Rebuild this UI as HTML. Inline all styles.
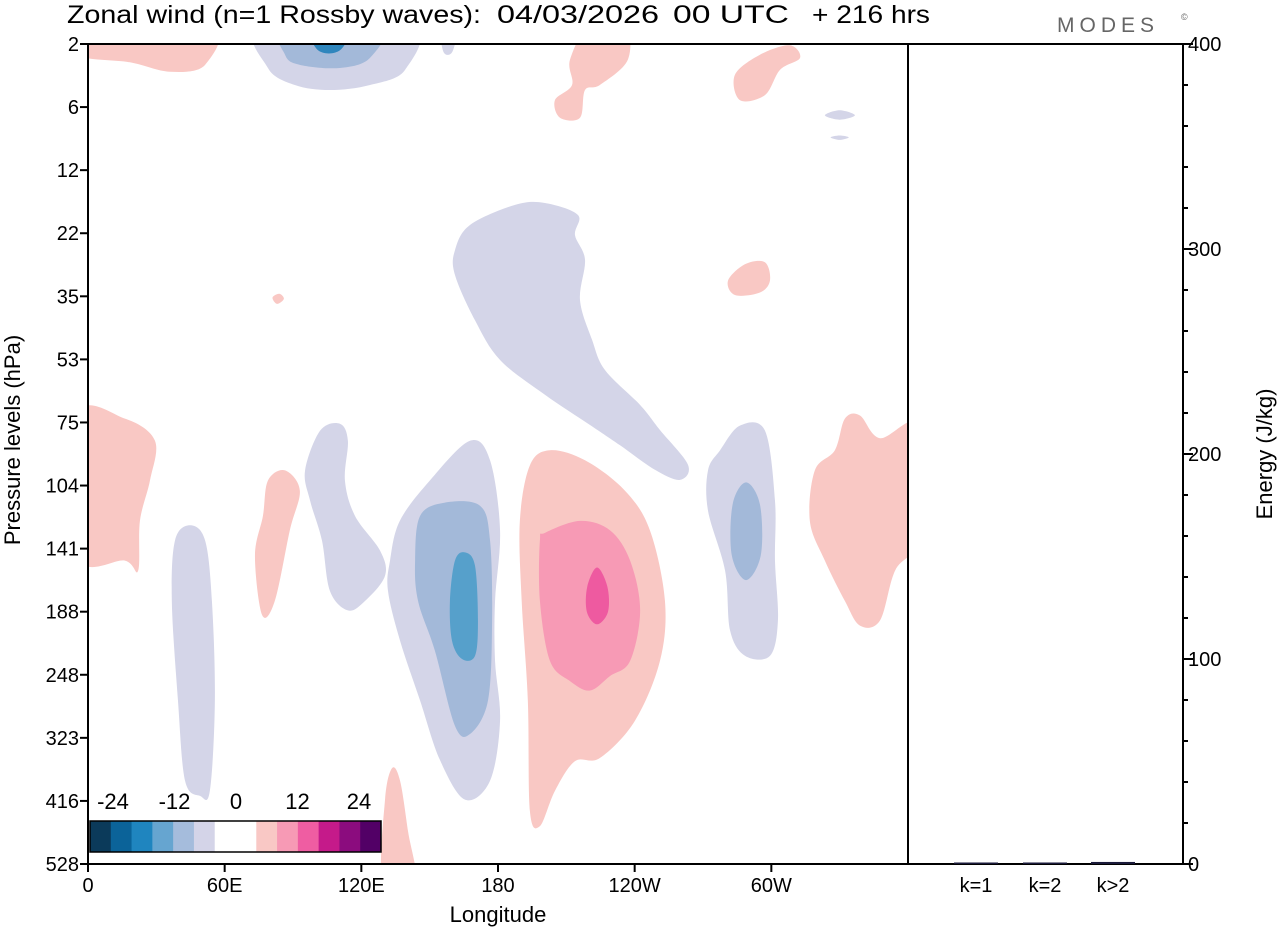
<!DOCTYPE html>
<html><head><meta charset="utf-8"><style>
body{margin:0;background:#fff;font-family:"Liberation Sans",Arial,sans-serif}
svg text{font-family:"Liberation Sans",Arial,sans-serif;white-space:pre}
</style></head><body>
<svg id="chart" width="1280" height="930" viewBox="0 0 1280 930" xmlns="http://www.w3.org/2000/svg">
<rect width="1280" height="930" fill="#fff"/>
<g font-size="25">
<text x="67" y="23" textLength="414" lengthAdjust="spacingAndGlyphs">Zonal wind (n=1 Rossby waves):</text>
<text x="497" y="23" textLength="162" lengthAdjust="spacingAndGlyphs">04/03/2026</text>
<text x="673" y="23" textLength="116" lengthAdjust="spacingAndGlyphs">00 UTC</text>
<text x="812" y="23" textLength="118" lengthAdjust="spacingAndGlyphs">+ 216 hrs</text>
</g>
<text x="1057" y="32" font-size="21" fill="#666" letter-spacing="5">MODES</text>
<text x="1181" y="20" font-size="9" fill="#666">©</text>
<defs><clipPath id="pc"><rect x="88" y="44" width="820" height="820"/></clipPath></defs>
<g id="contours" clip-path="url(#pc)"></g>
<g id="axes"></g>
</svg>
<script>
// pressure levels (index along y), longitude ticks, energy data
const levels=["2","6","12","22","35","53","75","104","141","188","248","323","416","528"];
const lonTicks=[0,60,120,180,240,300];
const lonLabels=["0","60E","120E","180","120W","60W"];
const energyCats=["k=1","k=2","k>2"];
const energyVals=[0.5,0.2,1.0];
const energyTicks=[0,100,200,300,400];
const cbColors=["#0b3a5a","#0b6399","#1f85bf","#66a5d0","#a5bcdc","#d4d4e8","#ffffff","#ffffff","#f9c8c5","#f79ab5","#ef5da2","#c51a8a","#8b0c7e","#520066"];
const cbLabels=["-24","-12","0","12","24"];
// contour blobs: [lon, levelIndex] points
const blobGrey="#d4d5e8",blobLB="#a3b9d9",blobMB="#56a0cb",blobDB="#2f86bd",pinkL="#f9c8c4",pinkM="#f79ab5",pinkD="#ee5aa0";
const blobs=[
 {c:pinkL,p:[[-5,-0.3],[53.6,-0.3],[51.4,0.33],[36,0.44],[18.4,0.29],[-5,0.17]]},
 {c:blobGrey,p:[[76.4,-0.3],[141.4,-0.3],[139.2,0.41],[123.8,0.65],[106.2,0.73],[90.8,0.65],[79,0.38]]},
 {c:blobLB,p:[[85.6,-0.3],[128.2,-0.3],[123.8,0.22],[110.6,0.38],[93,0.33],[86.5,0.17]]},
 {c:blobDB,p:[[97.5,-0.3],[115,-0.3],[110.6,0.1],[101,0.1]]},
 {c:blobGrey,p:[[155,-0.3],[162,-0.3],[160,0.12],[156,0.12]]},
 {c:pinkL,p:[[211.6,0.25],[220.4,-0.3],[235.7,-0.3],[237,0.25],[224.7,0.65],[218.2,0.73],[216,1.17],[207.2,1.17],[205,0.89],[212.5,0.65]]},
 {c:pinkL,p:[[284,0.49],[295,0.17],[308,0.02],[312.6,0.22],[303.8,0.41],[297.2,0.81],[286.2,0.89]]},
 {c:blobGrey,p:[[323.5,1.13],[330,1.05],[336.7,1.13],[330,1.2]]},
 {c:blobGrey,p:[[326,1.48],[330,1.45],[334,1.48],[330,1.52]]},
 {c:blobGrey,p:[[161.1,3.27],[167.7,2.87],[187.5,2.55],[200.6,2.52],[215.1,2.71],[213.8,3.03],[218.2,3.42],[216,4.06],[221.3,4.69],[227,5.17],[242.3,5.72],[251.1,6.12],[263.4,6.67],[259.9,6.91],[248.9,6.75],[233.5,6.36],[220.4,6.04],[200.6,5.56],[180.9,5.01],[169.9,4.38],[161.1,3.66]]},
 {c:pinkL,p:[[281,3.75],[288.5,3.49],[297.2,3.46],[299.4,3.75],[295,3.94],[284,3.98]]},
 {c:pinkL,p:[[81,4.02],[84,3.96],[86,4.04],[83,4.12]]},
 {c:pinkL,p:[[-5,5.89],[16.2,5.94],[29.4,6.29],[27.2,6.92],[22.8,7.56],[22,8.35],[16.2,8.19],[-5,8.11]]},
 {c:pinkL,p:[[365,6.05],[347.7,6.25],[338.9,5.89],[332.3,5.94],[327.9,6.44],[319.1,6.76],[316.9,7.56],[323.5,8.19],[332.3,8.83],[338.9,9.22],[347.7,9.14],[354.3,8.35],[365,7.79]]},
 {c:blobGrey,p:[[95.3,6.76],[101.9,6.13],[110.6,6.02],[114.1,6.29],[112.8,6.92],[117.2,7.48],[128.2,8.03],[130.4,8.43],[121.6,8.83],[114.1,8.98],[106.2,8.67],[102.7,7.87],[97.5,7.24]]},
 {c:pinkL,p:[[79,6.92],[86.5,6.76],[93,7.08],[88.6,7.71],[82,8.83],[76.4,9.05],[73.3,8.11],[76.8,7.48]]},
 {c:blobGrey,p:[[38.2,7.87],[44.8,7.63],[51.4,7.87],[54.4,8.83],[55.7,10.41],[53.5,11.84],[49.2,11.92],[42.6,11.68],[39.5,10.41],[36.8,8.83]]},
 {c:blobGrey,p:[[132.6,8.19],[136.9,7.56],[150.1,6.92],[167.7,6.29],[176.5,6.6],[180.9,7.71],[178.7,8.83],[178.7,9.78],[180.9,10.73],[176.5,11.68],[165.5,11.98],[154.5,11.35],[145.8,10.41],[137,9.46],[131.7,8.67]]},
 {c:blobLB,p:[[143.6,8.19],[145.8,7.48],[156.7,7.27],[172.1,7.32],[176.5,7.87],[177.4,9.14],[175.6,10.41],[167.7,10.94],[161.1,10.81],[152.3,9.62],[144.9,8.83]]},
 {c:blobMB,p:[[158.9,8.83],[161.1,8.19],[165.5,8.06],[169.9,8.27],[171.2,9.14],[169.9,9.7],[164.2,9.75],[159.8,9.46]]},
 {c:pinkL,p:[[189.6,7.56],[194,6.68],[202.8,6.44],[218.2,6.6],[235.7,7.08],[246.7,7.71],[253.3,8.83],[251.1,9.78],[240.1,10.73],[224.7,11.32],[213.8,11.37],[205,11.84],[198.4,12.4],[194,12.16],[193.1,10.41],[190.4,8.83]]},
 {c:pinkM,p:[[198.4,7.87],[200.6,7.75],[216,7.56],[229.2,7.71],[238,8.19],[242.4,8.98],[238,9.78],[229.2,10.02],[220.4,10.25],[211.6,10.1],[202.8,9.78],[198.4,8.83]]},
 {c:pinkD,p:[[223.5,8.3],[228,8.6],[228.3,9.0],[223.5,9.2],[219,9.0],[219.2,8.6]]},
 {c:blobGrey,p:[[272.2,6.76],[277.5,6.44],[286.2,6.05],[297.2,6.13],[301.6,7.24],[301.6,8.19],[302.9,9.14],[299.4,9.7],[288.5,9.7],[281.9,9.3],[279.7,8.35],[272.2,7.4]]},
 {c:blobLB,p:[[288.9,6.95],[295,7.3],[295.4,8.1],[288.9,8.5],[282.6,8.1],[283,7.3]]},
 {c:pinkL,p:[[129.5,13.3],[130.4,11.98],[133.5,11.48],[137,11.68],[140.5,12.48],[143.6,13.3]]}
];
const X0=88,X1=908,Y0=44,Y1=864;
const xs=l=>X0+l*(X1-X0)/360;
const ys=i=>Y0+i*(Y1-Y0)/(levels.length-1);
const NS="http://www.w3.org/2000/svg";
function mk(t,a,parent){const e=document.createElementNS(NS,t);for(const k in a)e.setAttribute(k,a[k]);parent.appendChild(e);return e;}
function smooth(pts){const n=pts.length;let d=`M${pts[0][0]},${pts[0][1]}`;
 for(let i=0;i<n;i++){const p0=pts[(i-1+n)%n],p1=pts[i],p2=pts[(i+1)%n],p3=pts[(i+2)%n];
 const c1=[p1[0]+(p2[0]-p0[0])/6,p1[1]+(p2[1]-p0[1])/6],c2=[p2[0]-(p3[0]-p1[0])/6,p2[1]-(p3[1]-p1[1])/6];
 d+=`C${c1[0]},${c1[1]} ${c2[0]},${c2[1]} ${p2[0]},${p2[1]}`;}return d+"Z";}
const cg=document.getElementById('contours');
blobs.forEach((b,i)=>{const pts=b.p.map(q=>[xs(q[0]),ys(q[1])]);
 const e=mk('path',{d:smooth(pts),fill:b.c},cg);
 
 });
const ax=document.getElementById('axes');
const stroke={stroke:'#000','stroke-width':2,fill:'none'};
let r=mk('rect',Object.assign({x:X0,y:Y0,width:1183-X0,height:Y1-Y0},stroke),ax);

let dv=mk('line',{x1:X1,y1:Y0,x2:X1,y2:Y1,stroke:'#000','stroke-width':2},ax);

levels.forEach((lv,i)=>{const y=ys(i);mk('line',{x1:X0-8,y1:y,x2:X0,y2:y,stroke:'#000','stroke-width':2},ax);
 const t=mk('text',{x:X0-9,y:y+7,'font-size':20,'text-anchor':'end'},ax);t.textContent=lv;
 });
lonTicks.forEach((l,i)=>{const x=xs(l);mk('line',{x1:x,y1:Y1,x2:x,y2:Y1+8,stroke:'#000','stroke-width':2},ax);
 const t=mk('text',{x:x,y:Y1+28,'font-size':20,'text-anchor':'middle'},ax);t.textContent=lonLabels[i];
 });
let t=mk('text',{x:498,y:922,'font-size':22,'text-anchor':'middle'},ax);t.textContent='Longitude';

t=mk('text',{x:0,y:0,'font-size':22,'text-anchor':'middle',transform:'translate(20,440) rotate(-90)'},ax);t.textContent='Pressure levels (hPa)';

// energy axis
const eMax=400,ey=v=>Y1-v*(Y1-Y0)/eMax;
for(let v=0;v<=eMax;v+=20){const y=ey(v);const maj=v%100===0;mk('line',{x1:1183,y1:y,x2:1183+(maj?10:5),y2:y,stroke:'#000','stroke-width':2},ax);}
energyTicks.forEach(v=>{const tt=mk('text',{x:1188,y:ey(v)+7,'font-size':20},ax);tt.textContent=v;
 });
t=mk('text',{x:0,y:0,'font-size':22,'text-anchor':'middle',transform:'translate(1272,454) rotate(-90)'},ax);t.textContent='Energy (J/kg)';

const bx=[976,1045,1113];
energyCats.forEach((c,i)=>{const h=Math.max(1.5,Y1-ey(energyVals[i]));
 const b=mk('rect',{x:bx[i]-22,y:Y1-h,width:44,height:h,fill:'#1a1a3a'},ax);
 
 const tt=mk('text',{x:bx[i],y:Y1+28,'font-size':20,'text-anchor':'middle'},ax);tt.textContent=c;
 });
// colorbar
const cw=(381-90)/cbColors.length;
cbColors.forEach((c,i)=>{const e=mk('rect',{x:90+i*cw,y:821,width:cw+0.5,height:31,fill:c},ax);
 });
mk('rect',{x:90,y:821,width:291,height:31,fill:'none',stroke:'#000','stroke-width':1.5},ax);
cbLabels.forEach((l,i)=>{const tt=mk('text',{x:113+i*61.5,y:809,'font-size':22,'text-anchor':'middle'},ax);tt.textContent=l;
 });
</script>
</body></html>
